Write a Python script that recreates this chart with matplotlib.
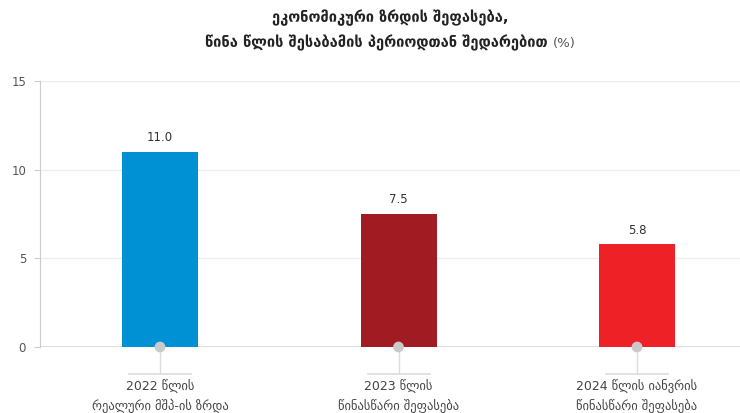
import matplotlib
matplotlib.use("Agg")
import matplotlib.pyplot as plt

categories = ["2022 წლის\nრეალური მშპ-ის ზრდა",
              "2023 წლის\nწინასწარი შეფასება",
              "2024 წლის იანვრის\nწინასწარი შეფასება"]
values = [11.0, 7.5, 5.8]
value_labels = ["11.0", "7.5", "5.8"]
colors = ["#0091D5", "#A01B22", "#EE2126"]
yticks = [0, 5, 10, 15]
title_line1 = "ეკონომიკური ზრდის შეფასება,"
title_line2 = "წინა წლის შესაბამის პერიოდთან შედარებით"

plt.rcParams['font.family'] = ['DejaVu Sans']

W, H = 740, 413
fig = plt.figure(figsize=(W / 100, H / 100), dpi=100)
ax = fig.add_axes([40 / W, 1 - 347 / H, 700 / W, 266 / H])

x = list(range(len(values)))
unit_px = 238.5
ax.set_xlim(-120 / unit_px, 580 / unit_px)
ax.set_ylim(0, 15)

ax.bar(x, values, width=76 / unit_px, color=colors, zorder=2)
for xi, v, lab in zip(x, values, value_labels):
    ax.annotate(lab, (xi, v), xytext=(0, 5.5), textcoords="offset points",
                ha="center", va="bottom", fontsize=8.5, color="#333333")

# dots at base
ax.scatter(x, [0] * len(x), s=60, color="#CACACA", zorder=4, clip_on=False,
           edgecolors="none")

# grid
ax.set_yticks(yticks)
ax.yaxis.grid(True, color="#EFEFEF", linewidth=1, zorder=0)
ax.set_axisbelow(True)
ax.axhline(0, color="#D8D8D8", linewidth=1.2, zorder=1)

for s in ["top", "right", "bottom"]:
    ax.spines[s].set_visible(False)
ax.spines["left"].set_color("#CCCCCC")
ax.spines["left"].set_linewidth(0.8)

ax.tick_params(axis="y", length=4, color="#CCCCCC", labelsize=8.5,
               labelcolor="#555555", pad=6)
ax.set_xticks(x)
ax.set_xticklabels(categories, fontsize=9, color="#444444", linespacing=1.45)
ax.tick_params(axis="x", length=27 * 0.72, width=1, color="#DDDDDD", pad=4)

# small horizontal brackets under ticks
half = 31 / unit_px
ybr = -27 / 266 * 15
for xi in x:
    ax.plot([xi - half, xi + half], [ybr, ybr], color="#DDDDDD", lw=1.2,
            clip_on=False, zorder=1)

TFS = 10.5
fig.text(390 / W, 1 - 18 / H, title_line1, ha="center", va="center",
         fontsize=TFS, fontweight="bold", color="#222222")
t2 = fig.text(390 / W, 1 - 43 / H, title_line2 + " ", ha="center", va="center",
              fontsize=TFS, fontweight="bold", color="#222222")

fig.canvas.draw()
bb = t2.get_window_extent()
pct = fig.text(0, 0, "(%)", fontsize=9.5, color="#555555", va="center")
pw = pct.get_window_extent().width
total = bb.width + pw
x0 = 390 - total / 2
t2.set_ha("left")
t2.set_x(x0 / W)
pct.set_position(((x0 + bb.width) / W, 1 - 43 / H))

fig.savefig("out.png", dpi=100)
